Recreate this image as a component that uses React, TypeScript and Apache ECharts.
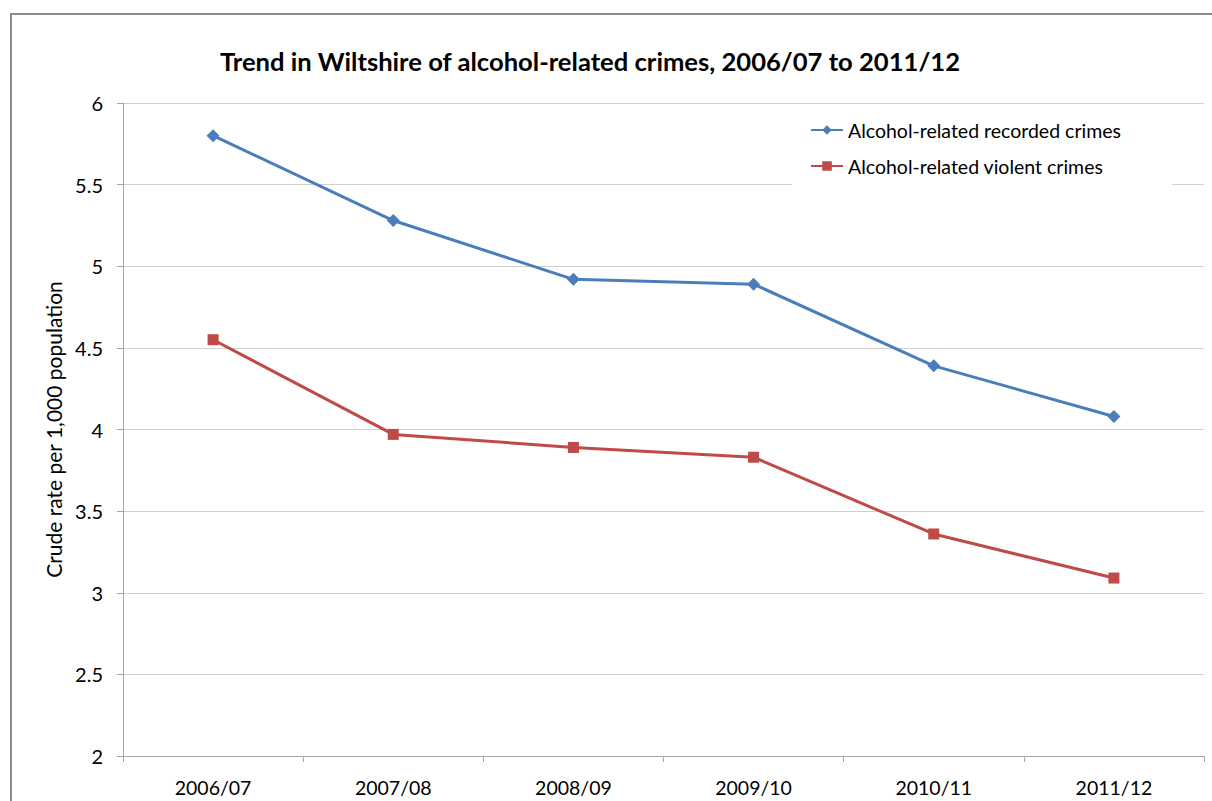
import React, { useEffect, useRef } from "react";
import * as echarts from "echarts";

const categories = ["2006/07", "2007/08", "2008/09", "2009/10", "2010/11", "2011/12"];
const recordedCrimes = [5.8, 5.28, 4.92, 4.89, 4.39, 4.08];
const violentCrimes = [4.55, 3.97, 3.89, 3.83, 3.36, 3.09];
const seriesNames = ["Alcohol-related recorded crimes", "Alcohol-related violent crimes"];
const titleText = "Trend in Wiltshire of alcohol-related crimes, 2006/07 to 2011/12";
const yAxisName = "Crude rate per 1,000 population";

const FONT = "Lato, 'Open Sans', sans-serif";

export default function App() {
  const ref = useRef<HTMLDivElement>(null);
  useEffect(() => {
    if (!ref.current) return;
    const chart = echarts.init(ref.current, null, { renderer: "svg" });
    chart.setOption({
      animation: false,
      backgroundColor: "#ffffff",
      textStyle: { fontFamily: FONT },
      title: {
        text: titleText,
        left: 585,
        textAlign: "center",
        top: 43,
        textStyle: { fontFamily: FONT, fontSize: 25.6, fontWeight: "bold", color: "#000000" },
      },
      grid: { left: 123, top: 103, right: 8, bottom: 45, containLabel: false },
      legend: {
        orient: "vertical",
        left: 792,
        top: 105,
        itemWidth: 32,
        itemHeight: 12,
        itemGap: 16,
        padding: [15, 51, 12, 18],
        backgroundColor: "#ffffff",
        textStyle: { fontFamily: FONT, fontSize: 19.5, color: "#000000" },
        data: seriesNames,
      },
      xAxis: {
        type: "category",
        data: categories,
        boundaryGap: true,
        axisLine: { lineStyle: { color: "#a6a6a6", width: 1 } },
        axisTick: { show: true, alignWithLabel: false, length: 6, lineStyle: { color: "#a6a6a6" } },
        axisLabel: { fontFamily: FONT, fontSize: 19.5, color: "#000000", margin: 21 },
        splitLine: { show: false },
      },
      yAxis: {
        type: "value",
        min: 2,
        max: 6,
        interval: 0.5,
        name: yAxisName,
        nameLocation: "middle",
        nameGap: 56,
        nameRotate: 90,
        nameTextStyle: { fontFamily: FONT, fontSize: 21, color: "#000000" },
        axisLine: { show: true, lineStyle: { color: "#a6a6a6", width: 1 } },
        axisTick: { show: true, inside: false, length: 6, lineStyle: { color: "#a6a6a6" } },
        axisLabel: { fontFamily: FONT, fontSize: 20, color: "#000000", margin: 20 },
        splitLine: { show: true, lineStyle: { color: "#d0d0d0", width: 1 } },
      },
      graphic: [
        {
          type: "rect",
          shape: { x: 11, y: 14, width: 1400, height: 1000 },
          style: { fill: "none", stroke: "#8c8c8c", lineWidth: 2 },
          silent: true,
        },
      ],
      series: [
        {
          name: seriesNames[0],
          type: "line",
          data: recordedCrimes,
          symbol: "diamond",
          symbolSize: 13,
          lineStyle: { color: "#4a7ebb", width: 3 },
          itemStyle: { color: "#4a7ebb" },
        },
        {
          name: seriesNames[1],
          type: "line",
          data: violentCrimes,
          symbol: "rect",
          symbolSize: 11,
          lineStyle: { color: "#be4b48", width: 3 },
          itemStyle: { color: "#be4b48" },
        },
      ],
    });
    return () => chart.dispose();
  }, []);
  return (
    <div
      ref={ref}
      style={{ position: "fixed", left: 0, top: 0, width: 1212, height: 801 }}
    />
  );
}
